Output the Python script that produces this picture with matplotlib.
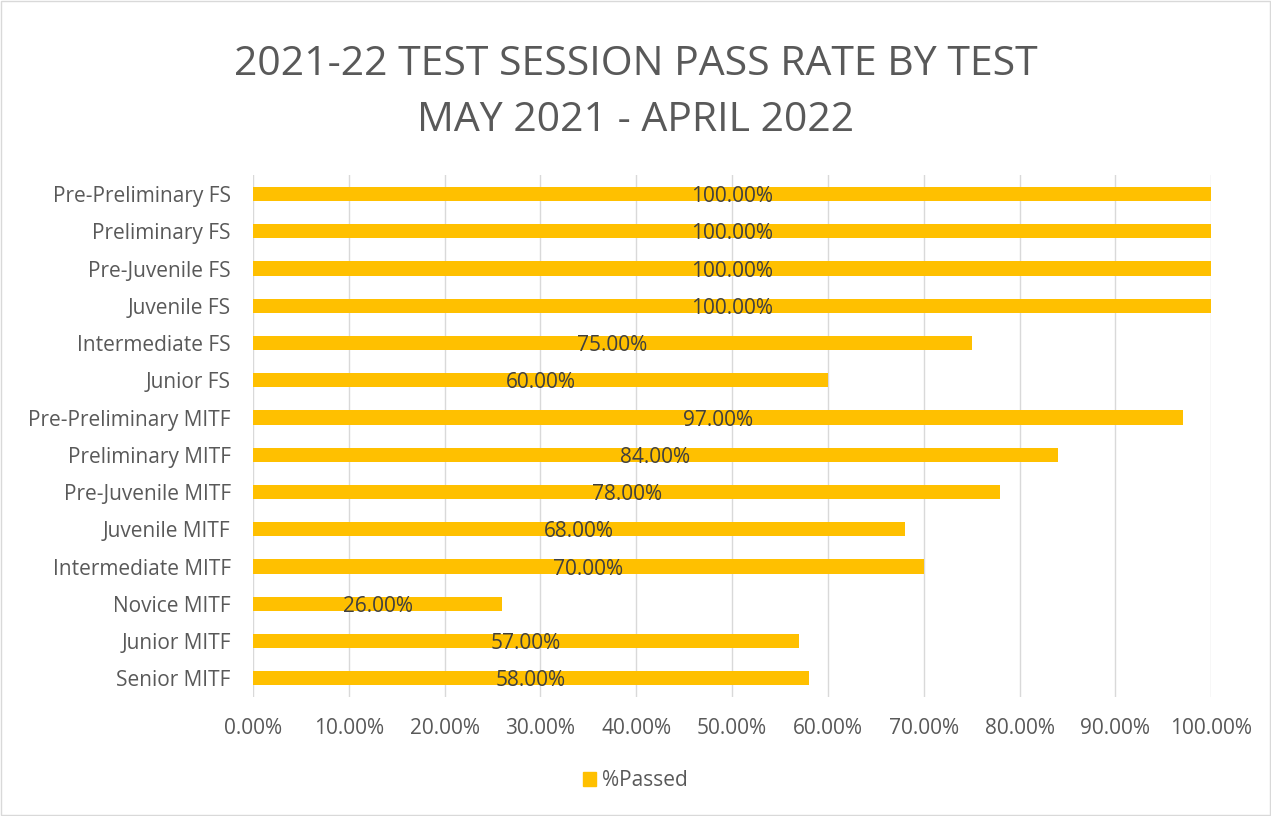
import matplotlib

matplotlib.use("Agg")
import matplotlib.pyplot as plt
from matplotlib.patches import Rectangle

categories = [
    "Pre-Preliminary FS", "Preliminary FS", "Pre-Juvenile FS", "Juvenile FS",
    "Intermediate FS", "Junior FS", "Pre-Preliminary MITF", "Preliminary MITF",
    "Pre-Juvenile MITF", "Juvenile MITF", "Intermediate MITF", "Novice MITF",
    "Junior MITF", "Senior MITF",
]
passed = [100, 100, 100, 100, 75, 60, 97, 84, 78, 68, 70, 26, 57, 58]
xticks = list(range(0, 101, 10))
xtick_labels = [f"{t:.2f}%" for t in xticks]
title_lines = ["2021-22 TEST SESSION PASS RATE BY TEST", "MAY 2021 - APRIL 2022"]

BAR = "#FFC000"
GREY = "#595959"
plt.rcParams["font.family"] = ["Open Sans", "DejaVu Sans"]

fig = plt.figure(figsize=(12.71, 8.16), dpi=100)
fig.patches.append(Rectangle((0.001, 0.001), 0.998, 0.998, transform=fig.transFigure,
                             fill=False, edgecolor="#D9D9D9", lw=1))
ax = fig.add_axes([0.199, 0.146, 0.754, 0.639])

y = list(range(len(categories)))
ax.barh(y, passed, height=0.38, color=BAR, zorder=2)
for yi, v in zip(y, passed):
    # labels sit a touch below the bar centre, as in the original
    ax.text(v / 2, yi + 0.07, f"{v:.2f}%", ha="center", va="center", fontsize=15,
            color="#404040", zorder=3)

ax.set_ylim(len(categories) - 0.5, -0.5)
ax.set_xlim(0, 100)
ax.set_yticks(y)
ax.set_yticklabels(categories, fontsize=15, color=GREY)
ax.set_xticks(xticks)
ax.set_xticklabels(xtick_labels, fontsize=15, color=GREY)
ax.tick_params(length=0)
ax.tick_params(axis="y", pad=16)
ax.tick_params(axis="x", pad=15)
ax.grid(axis="x", color="#D9D9D9", lw=1, zorder=0)
for s in ax.spines.values():
    s.set_visible(False)

fig.text(0.5, 0.908, title_lines[0], ha="center", va="baseline", fontsize=29.5, color=GREY)
fig.text(0.5, 0.839, title_lines[1], ha="center", va="baseline", fontsize=29.5, color=GREY)

ax.legend([Rectangle((0, 0), 1, 1, color=BAR)], ["%Passed"], loc="center",
          bbox_to_anchor=(0.5, 0.043), bbox_transform=fig.transFigure, frameon=False,
          fontsize=15, labelcolor=GREY, handlelength=0.6, handleheight=0.6, handletextpad=0.3)

fig.savefig("out.png", dpi=100)
